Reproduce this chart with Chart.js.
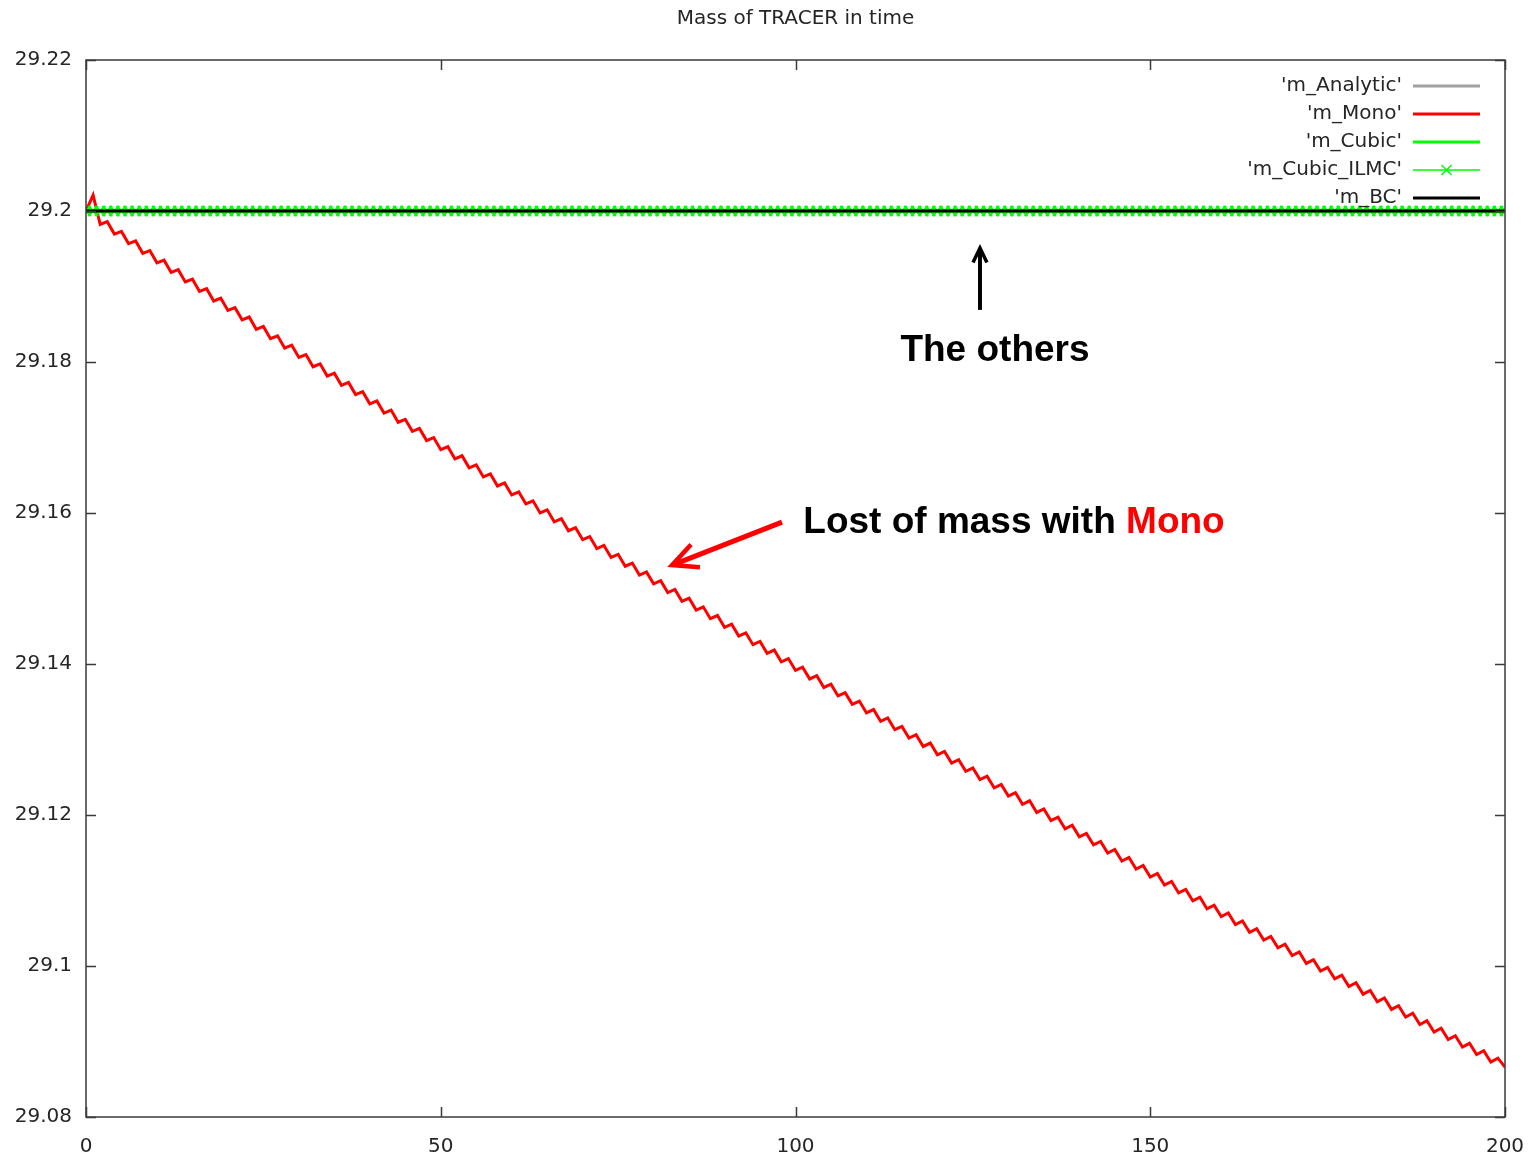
<!DOCTYPE html>
<html>
<head>
<meta charset="utf-8">
<title>Mass of TRACER in time</title>
<script src="https://cdn.jsdelivr.net/npm/chart.js@4.4.0/dist/chart.umd.min.js"></script>
<style>
  html, body { margin: 0; padding: 0; background: #fff; }
</style>
</head>
<body>
<canvas id="massChart" width="1540" height="1158"></canvas>
<script>
// time steps (x)
const timeSteps = [
  0, 1, 2, 3, 4, 5, 6, 7, 8, 9, 10, 11, 12, 13, 14, 15, 16, 17, 18, 19,
  20, 21, 22, 23, 24, 25, 26, 27, 28, 29, 30, 31, 32, 33, 34, 35, 36, 37, 38, 39,
  40, 41, 42, 43, 44, 45, 46, 47, 48, 49, 50, 51, 52, 53, 54, 55, 56, 57, 58, 59,
  60, 61, 62, 63, 64, 65, 66, 67, 68, 69, 70, 71, 72, 73, 74, 75, 76, 77, 78, 79,
  80, 81, 82, 83, 84, 85, 86, 87, 88, 89, 90, 91, 92, 93, 94, 95, 96, 97, 98, 99,
  100, 101, 102, 103, 104, 105, 106, 107, 108, 109, 110, 111, 112, 113, 114, 115, 116, 117, 118, 119,
  120, 121, 122, 123, 124, 125, 126, 127, 128, 129, 130, 131, 132, 133, 134, 135, 136, 137, 138, 139,
  140, 141, 142, 143, 144, 145, 146, 147, 148, 149, 150, 151, 152, 153, 154, 155, 156, 157, 158, 159,
  160, 161, 162, 163, 164, 165, 166, 167, 168, 169, 170, 171, 172, 173, 174, 175, 176, 177, 178, 179,
  180, 181, 182, 183, 184, 185, 186, 187, 188, 189, 190, 191, 192, 193, 194, 195, 196, 197, 198, 199,
  200
];

// m_Mono: sawtooth going down
const mMono = [
  29.20000, 29.20210, 29.19822, 29.19858, 29.19694, 29.19730, 29.19567, 29.19603, 29.19440, 29.19476,
  29.19313, 29.19349, 29.19186, 29.19223, 29.19060, 29.19097, 29.18934, 29.18971, 29.18808, 29.18846,
  29.18683, 29.18720, 29.18558, 29.18596, 29.18433, 29.18471, 29.18309, 29.18347, 29.18185, 29.18223,
  29.18061, 29.18099, 29.17937, 29.17976, 29.17814, 29.17852, 29.17691, 29.17730, 29.17568, 29.17607,
  29.17446, 29.17485, 29.17324, 29.17363, 29.17202, 29.17241, 29.17081, 29.17120, 29.16960, 29.16999,
  29.16839, 29.16878, 29.16718, 29.16758, 29.16598, 29.16638, 29.16478, 29.16518, 29.16358, 29.16399,
  29.16239, 29.16279, 29.16120, 29.16161, 29.16001, 29.16042, 29.15883, 29.15924, 29.15765, 29.15806,
  29.15647, 29.15688, 29.15529, 29.15571, 29.15412, 29.15453, 29.15295, 29.15337, 29.15178, 29.15220,
  29.15062, 29.15104, 29.14946, 29.14988, 29.14830, 29.14872, 29.14715, 29.14757, 29.14600, 29.14642,
  29.14485, 29.14527, 29.14370, 29.14413, 29.14256, 29.14299, 29.14142, 29.14185, 29.14028, 29.14072,
  29.13915, 29.13958, 29.13802, 29.13846, 29.13689, 29.13733, 29.13577, 29.13621, 29.13465, 29.13509,
  29.13353, 29.13397, 29.13241, 29.13286, 29.13130, 29.13174, 29.13019, 29.13064, 29.12908, 29.12953,
  29.12798, 29.12843, 29.12688, 29.12733, 29.12578, 29.12623, 29.12469, 29.12514, 29.12360, 29.12405,
  29.12251, 29.12296, 29.12142, 29.12188, 29.12034, 29.12080, 29.11926, 29.11972, 29.11818, 29.11865,
  29.11711, 29.11757, 29.11604, 29.11651, 29.11497, 29.11544, 29.11391, 29.11438, 29.11285, 29.11332,
  29.11179, 29.11226, 29.11073, 29.11121, 29.10968, 29.11015, 29.10863, 29.10911, 29.10758, 29.10806,
  29.10654, 29.10702, 29.10550, 29.10598, 29.10446, 29.10494, 29.10343, 29.10391, 29.10240, 29.10288,
  29.10137, 29.10185, 29.10034, 29.10083, 29.09932, 29.09981, 29.09830, 29.09879, 29.09728, 29.09778,
  29.09627, 29.09676, 29.09526, 29.09576, 29.09425, 29.09475, 29.09325, 29.09375, 29.09225, 29.09275,
  29.09125, 29.09175, 29.09025, 29.09076, 29.08926, 29.08976, 29.08827, 29.08878, 29.08728, 29.08779,
  29.08660
];

// Analytic, Cubic, Cubic_ILMC and BC all sit on the same level
const othersLevel = 29.2;

const seriesNames = ["'m_Analytic'", "'m_Mono'", "'m_Cubic'", "'m_Cubic_ILMC'", "'m_BC'"];
const seriesColors = ['#a0a0a0', '#ff0000', '#00ff00', '#00ff00', '#000000'];

const yTickValues = [29.08, 29.1, 29.12, 29.14, 29.16, 29.18, 29.2, 29.22];
const yTickLabels = ['29.08', '29.1', '29.12', '29.14', '29.16', '29.18', '29.2', '29.22'];
const xTickValues = [0, 50, 100, 150, 200];
const xTickLabels = ['0', '50', '100', '150', '200'];

const chartTitle = 'Mass of TRACER in time';
// annotation anchors in data coordinates
const othersNote = { text: 'The others', x: 126, y: 29.1801, arrowFrom: 29.1869, arrowTo: 29.1951 };
const monoNote = { text: 'Lost of mass with ', red: 'Mono', x: 101.1, y: 29.1587, arrowFrom: [98.1, 29.1588], arrowTo: [82.6, 29.1531] };

const textFont = '20px "DejaVu Sans"';
const textColor = '#262626';
const frameColor = '#3a3a3a';

function pts(ys) {
  return timeSteps.map(function (t, i) { return { x: t, y: ys[i] }; });
}
const flat = timeSteps.map(function () { return othersLevel; });

function arrowHead(ctx, x0, y0, x1, y1, len) {
  const a = Math.atan2(y1 - y0, x1 - x0);
  ctx.beginPath();
  ctx.moveTo(x1 - len * Math.cos(a - 0.45), y1 - len * Math.sin(a - 0.45));
  ctx.lineTo(x1, y1);
  ctx.lineTo(x1 - len * Math.cos(a + 0.45), y1 - len * Math.sin(a + 0.45));
  ctx.stroke();
}

const gnuplotLook = {
  id: 'gnuplotLook',
  afterDraw: function (chart) {
    const ctx = chart.ctx;
    const area = chart.chartArea;
    const xs = chart.scales.x, ys = chart.scales.y;
    ctx.save();

    // frame + inward ticks on all sides
    ctx.strokeStyle = frameColor;
    ctx.lineWidth = 1.5;
    ctx.strokeRect(area.left, area.top, area.right - area.left, area.bottom - area.top);
    ctx.beginPath();
    yTickValues.forEach(function (v) {
      const py = Math.round(ys.getPixelForValue(v)) + 0.5;
      ctx.moveTo(area.left, py); ctx.lineTo(area.left + 10, py);
      ctx.moveTo(area.right, py); ctx.lineTo(area.right - 10, py);
    });
    xTickValues.forEach(function (v) {
      const px = Math.round(xs.getPixelForValue(v)) + 0.5;
      ctx.moveTo(px, area.bottom); ctx.lineTo(px, area.bottom - 10);
      ctx.moveTo(px, area.top); ctx.lineTo(px, area.top + 10);
    });
    ctx.stroke();

    // title
    ctx.fillStyle = textColor;
    ctx.font = textFont;
    ctx.textAlign = 'center';
    ctx.textBaseline = 'middle';
    ctx.fillText(chartTitle, (area.left + area.right) / 2, 19);

    // legend (top right, gnuplot style)
    const textRight = area.right - 103;
    const lineL = area.right - 92, lineR = area.right - 25;
    seriesNames.forEach(function (name, i) {
      const py = area.top + 26 + i * 28;
      ctx.fillStyle = textColor;
      ctx.textAlign = 'right';
      ctx.fillText(name, textRight, py);
      ctx.strokeStyle = seriesColors[i];
      ctx.lineWidth = i === 3 ? 1.5 : 3;
      ctx.beginPath();
      ctx.moveTo(lineL, py); ctx.lineTo(lineR, py);
      ctx.stroke();
      if (i === 3) {
        const cx = (lineL + lineR) / 2;
        ctx.lineWidth = 1.5;
        ctx.beginPath();
        ctx.moveTo(cx - 5, py - 5); ctx.lineTo(cx + 5, py + 5);
        ctx.moveTo(cx - 5, py + 5); ctx.lineTo(cx + 5, py - 5);
        ctx.stroke();
      }
    });

    // "The others" annotation
    ctx.font = 'bold 37px "Liberation Sans", Arial, sans-serif';
    ctx.textAlign = 'center';
    ctx.textBaseline = 'alphabetic';
    ctx.fillStyle = '#000';
    const ox = xs.getPixelForValue(othersNote.x);
    ctx.fillText(othersNote.text, ox + 15, ys.getPixelForValue(othersNote.y));
    ctx.strokeStyle = '#000';
    ctx.lineWidth = 4;
    ctx.lineCap = 'butt';
    const a0 = ys.getPixelForValue(othersNote.arrowFrom), a1 = ys.getPixelForValue(othersNote.arrowTo);
    ctx.beginPath();
    ctx.moveTo(ox, a0); ctx.lineTo(ox, a1 + 2);
    ctx.stroke();
    ctx.lineWidth = 3.5;
    arrowHead(ctx, ox, a0, ox, a1, 16);

    // "Lost of mass with Mono" annotation
    ctx.textAlign = 'left';
    ctx.textBaseline = 'middle';
    const mx = xs.getPixelForValue(monoNote.x), my = ys.getPixelForValue(monoNote.y);
    ctx.fillStyle = '#000';
    ctx.fillText(monoNote.text, mx, my);
    const w = ctx.measureText(monoNote.text).width;
    ctx.fillStyle = '#ff0000';
    ctx.fillText(monoNote.red, mx + w, my);
    const r0x = xs.getPixelForValue(monoNote.arrowFrom[0]), r0y = ys.getPixelForValue(monoNote.arrowFrom[1]);
    const r1x = xs.getPixelForValue(monoNote.arrowTo[0]), r1y = ys.getPixelForValue(monoNote.arrowTo[1]);
    ctx.strokeStyle = '#ff0000';
    ctx.lineWidth = 5;
    ctx.beginPath();
    ctx.moveTo(r0x, r0y); ctx.lineTo(r1x + 4, r1y - 1.5);
    ctx.stroke();
    ctx.lineWidth = 4.5;
    ctx.lineJoin = 'miter';
    arrowHead(ctx, r0x, r0y, r1x, r1y, 28);

    ctx.restore();
  }
};

const ctx = document.getElementById('massChart').getContext('2d');
const myChart = new Chart(ctx, {
  type: 'line',
  data: {
    datasets: [
      { label: seriesNames[4], data: pts(flat), borderColor: seriesColors[4], borderWidth: 3, pointRadius: 0, order: 0 },
      { label: seriesNames[3], data: pts(flat), borderColor: seriesColors[3], borderWidth: 1.5, pointStyle: 'crossRot',
        pointRadius: 7, pointBorderWidth: 2.2, pointBorderColor: seriesColors[3], order: 1 },
      { label: seriesNames[2], data: pts(flat), borderColor: seriesColors[2], borderWidth: 3, pointRadius: 0, order: 2 },
      { label: seriesNames[1], data: pts(mMono), borderColor: seriesColors[1], borderWidth: 3, pointRadius: 0, order: 3 },
      { label: seriesNames[0], data: pts(flat), borderColor: seriesColors[0], borderWidth: 3, pointRadius: 0, order: 4 }
    ]
  },
  options: {
    responsive: false,
    animation: false,
    devicePixelRatio: 1,
    layout: { padding: { left: 0, top: 60, right: 35, bottom: 0 } },
    plugins: { legend: { display: false }, tooltip: { enabled: false } },
    elements: { line: { tension: 0, borderJoinStyle: 'miter' } },
    scales: {
      x: {
        type: 'linear', min: 0, max: 200,
        afterBuildTicks: function (s) { s.ticks = xTickValues.map(function (v) { return { value: v }; }); },
        afterFit: function (s) { s.height = 41; s.paddingLeft = 0; s.paddingRight = 0; },
        grid: { display: false, drawTicks: false },
        border: { display: false },
        ticks: {
          padding: 18, color: textColor, maxRotation: 0, autoSkip: false,
          font: { family: 'DejaVu Sans', size: 20 },
          callback: function (v) { return xTickLabels[xTickValues.indexOf(v)]; }
        }
      },
      y: {
        type: 'linear', min: 29.08, max: 29.22,
        afterBuildTicks: function (s) { s.ticks = yTickValues.map(function (v) { return { value: v }; }); },
        afterFit: function (s) { s.width = 86; s.paddingTop = 0; s.paddingBottom = 0; },
        grid: { display: false, drawTicks: false },
        border: { display: false },
        ticks: {
          padding: 14, color: textColor, autoSkip: false,
          font: { family: 'DejaVu Sans', size: 20 },
          callback: function (v) {
            const i = yTickValues.findIndex(function (t) { return Math.abs(t - v) < 1e-9; });
            return i >= 0 ? yTickLabels[i] : '';
          }
        }
      }
    }
  },
  plugins: [gnuplotLook]
});
</script>
</body>
</html>
